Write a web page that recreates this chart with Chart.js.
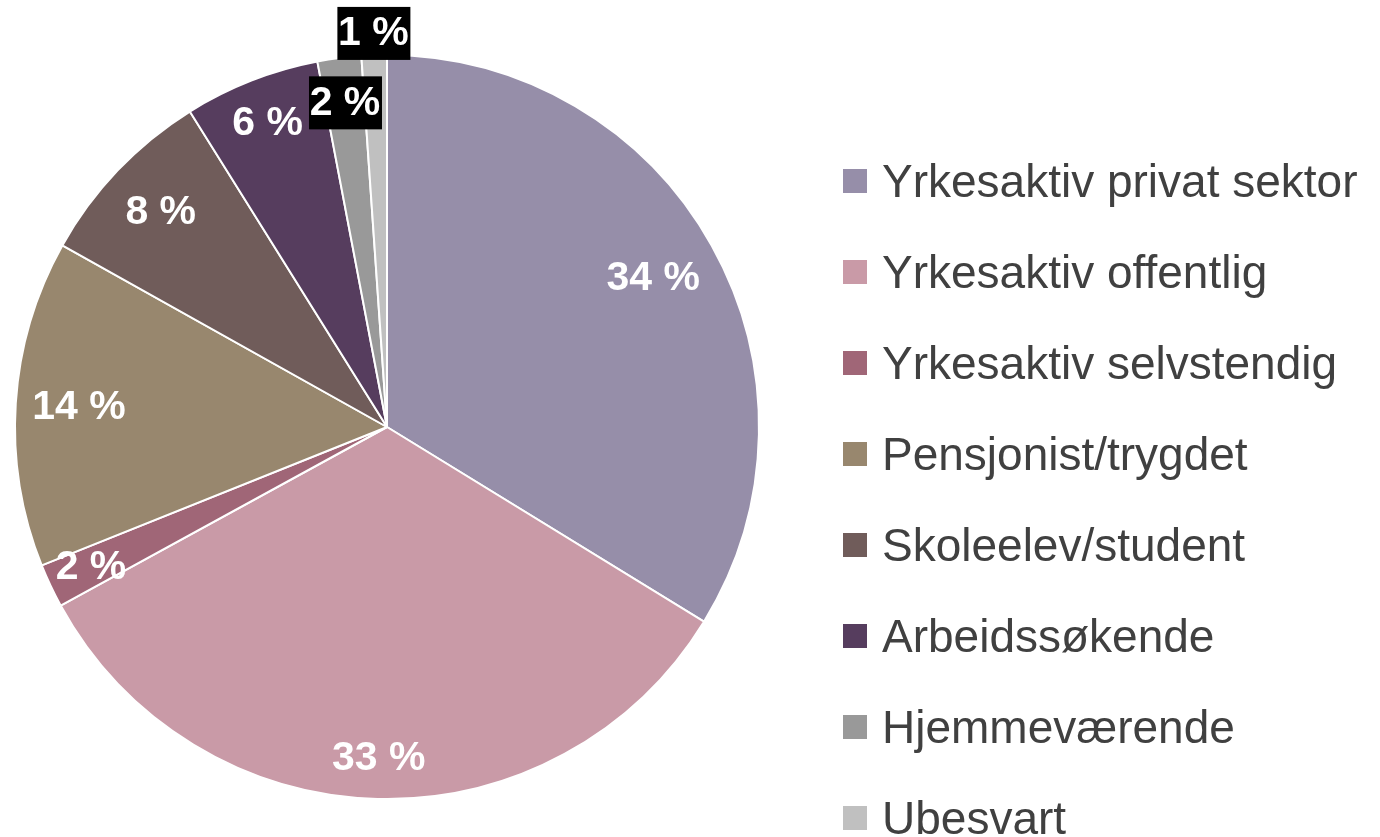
<!DOCTYPE html>
<html>
<head>
<meta charset="utf-8">
<script src="https://cdn.jsdelivr.net/npm/chart.js@4/dist/chart.umd.min.js"></script>
<style>
  html, body { margin: 0; padding: 0; background: #fff; }
  #wrap { position: relative; width: 1380px; height: 837px; }
</style>
</head>
<body>
<div id="wrap"><canvas id="pie" width="1380" height="837"></canvas></div>
<script>
const categories = [
  'Yrkesaktiv privat sektor',
  'Yrkesaktiv offentlig',
  'Yrkesaktiv selvstendig',
  'Pensjonist/trygdet',
  'Skoleelev/student',
  'Arbeidssøkende',
  'Hjemmeværende',
  'Ubesvart'
];
const shares = [33.8, 33.3, 1.9, 14.2, 8.0, 5.9, 1.9, 1.1];
const sliceColors = ['#968EA9', '#C99AA7', '#A06677', '#98876E', '#705C5A', '#563D5E', '#999999', '#C0C0C0'];

// label distance from centre (fraction of radius), and which labels get a black box
const labelRadius = [0.82, 0.89, 0.88, 0.83, 0.84, 0.88, 0.88, 1.06];
const boxed = [false, false, false, false, false, false, true, true];

const pieLabels = {
  id: 'pieLabels',
  afterDatasetsDraw(chart) {
    const ctx = chart.ctx;
    const meta = chart.getDatasetMeta(0);
    const total = shares.reduce((a, b) => a + b, 0);
    ctx.save();
    ctx.font = 'bold 41px "Liberation Sans", Arial, sans-serif';
    ctx.textAlign = 'center';
    ctx.textBaseline = 'middle';
    meta.data.forEach((arc, i) => {
      const p = arc.getProps(['x', 'y', 'startAngle', 'endAngle', 'outerRadius']);
      const mid = (p.startAngle + p.endAngle) / 2;
      const r = p.outerRadius * labelRadius[i];
      const x = p.x + Math.cos(mid) * r;
      const y = p.y + Math.sin(mid) * r;
      const txt = Math.round(shares[i] / total * 100) + ' %';
      if (boxed[i]) {
        ctx.fillStyle = '#000';
        ctx.fillRect(x - 36, y - 26, 73, 53);
      }
      ctx.fillStyle = '#fff';
      ctx.fillText(txt, x, y + 1);
    });
    ctx.restore();

    // legend
    ctx.save();
    ctx.font = '46px "Liberation Sans", Arial, sans-serif';
    ctx.textBaseline = 'middle';
    ctx.textAlign = 'left';
    categories.forEach((name, i) => {
      const cy = 181 + i * 91;
      ctx.fillStyle = sliceColors[i];
      ctx.fillRect(843, cy - 12, 24, 24);
      ctx.fillStyle = '#404040';
      ctx.fillText(name, 882, cy + 3);
    });
    ctx.restore();
  }
};

new Chart(document.getElementById('pie'), {
  type: 'pie',
  data: {
    labels: categories,
    datasets: [{
      data: shares,
      backgroundColor: sliceColors,
      borderColor: '#ffffff',
      borderWidth: 2
    }]
  },
  options: {
    responsive: false,
    animation: false,
    layout: { padding: { left: 14, right: 620, top: 54, bottom: 37 } },
    plugins: {
      legend: { display: false },
      tooltip: { enabled: false }
    }
  },
  plugins: [pieLabels]
});
</script>
</body>
</html>
